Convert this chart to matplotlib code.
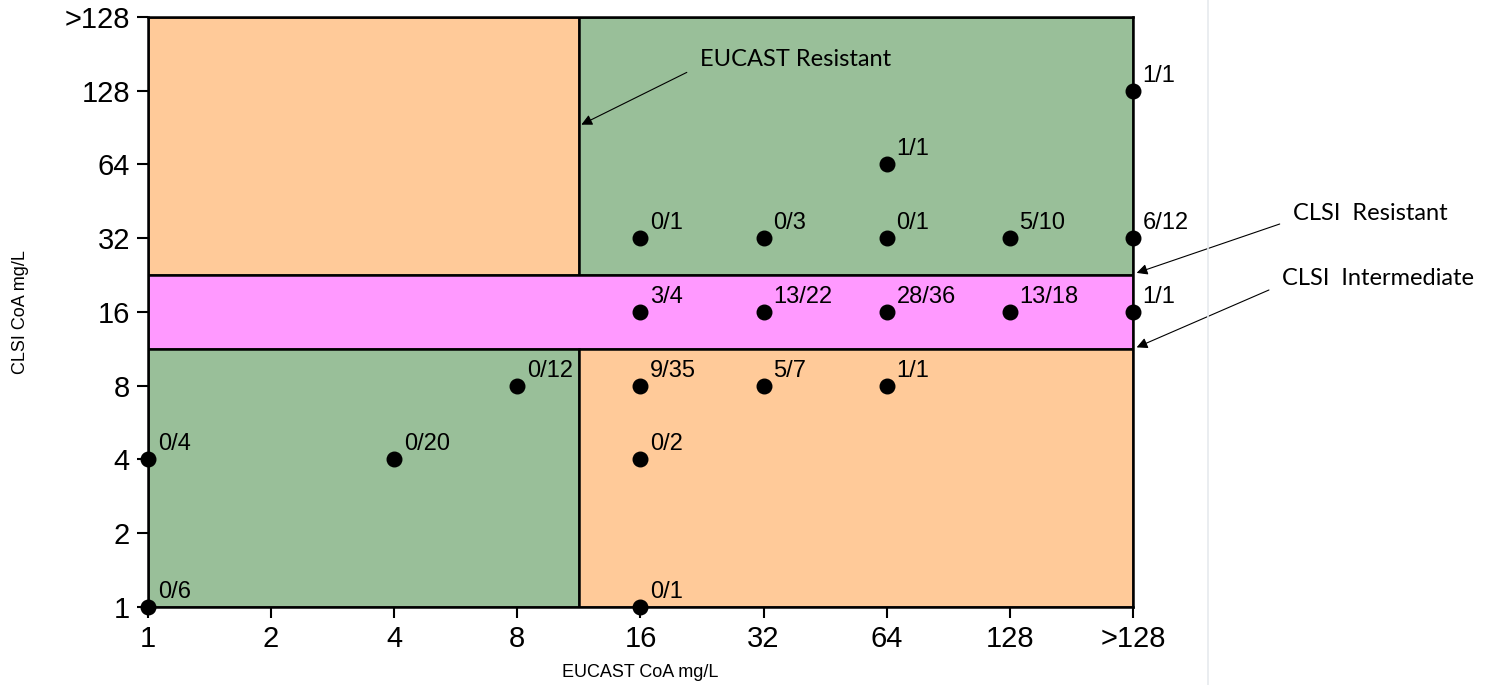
import matplotlib.pyplot as plt
from matplotlib.patches import Rectangle
from matplotlib.lines import Line2D

# MIC categories (log2 steps), shared by both axes
mic_labels = ["1", "2", "4", "8", "16", "32", "64", "128", ">128"]

# each point: EUCAST category index, CLSI category index, count label
eucast_idx = [0, 0, 2, 3, 4, 4, 4, 4, 4, 5, 5, 5, 6, 6, 6, 6, 7, 7, 8, 8, 8]
clsi_idx = [0, 2, 2, 3, 0, 2, 3, 4, 5, 3, 4, 5, 3, 4, 5, 6, 4, 5, 4, 5, 7]
counts = ["0/6", "0/4", "0/20", "0/12", "0/1", "0/2", "9/35", "3/4", "0/1",
          "5/7", "13/22", "0/3", "1/1", "28/36", "0/1", "1/1",
          "13/18", "5/10", "1/1", "6/12", "1/1"]

# breakpoints, in category units
eucast_bp = 3.5
clsi_int_lo, clsi_int_hi = 3.5, 4.5

ORANGE = "#ffca99"
GREEN = "#99bf99"
PINK = "#ff99ff"
SANS = ["Liberation Sans", "DejaVu Sans"]
NOTE = ["Lato", "DejaVu Sans"]

fig = plt.figure(figsize=(14.99, 6.85), dpi=100)
ax = fig.add_axes([0.0987, 0.1139, 0.6571, 0.8613])
xmax = len(mic_labels) - 1

boxes = [
    (0, clsi_int_hi, eucast_bp, xmax - clsi_int_hi, ORANGE),
    (eucast_bp, clsi_int_hi, xmax - eucast_bp, xmax - clsi_int_hi, GREEN),
    (0, clsi_int_lo, xmax, clsi_int_hi - clsi_int_lo, PINK),
    (0, 0, eucast_bp, clsi_int_lo, GREEN),
    (eucast_bp, 0, xmax - eucast_bp, clsi_int_lo, ORANGE),
]
for x0, y0, w, h, c in boxes:
    ax.add_patch(Rectangle((x0, y0), w, h, facecolor=c, edgecolor="black",
                           lw=1.8, zorder=1))

ax.scatter(eucast_idx, clsi_idx, s=110, color="black", zorder=5, clip_on=False)
for x, y, t in zip(eucast_idx, clsi_idx, counts):
    ax.annotate(t, (x, y), xytext=(7, 3), textcoords="offset points",
                ha="left", va="bottom", fontsize=17, family=SANS,
                annotation_clip=False, zorder=6)

ax.set_xlim(0, xmax)
ax.set_ylim(0, xmax)
ax.set_xticks(range(len(mic_labels)))
ax.set_xticklabels(mic_labels, family=SANS, fontsize=21)
ax.set_yticks(range(len(mic_labels)))
ax.set_yticklabels(mic_labels, family=SANS, fontsize=21)
ax.tick_params(direction="out", length=8, width=1.5, pad=5)
for sp in ax.spines.values():
    sp.set_linewidth(1.8)
    sp.set_zorder(2)

ax.set_xlabel("EUCAST CoA mg/L", fontsize=13, family=SANS, labelpad=8)
ax.set_ylabel("CLSI CoA mg/L", fontsize=13, family=SANS)
ax.yaxis.set_label_coords(-0.121, 0.5)

arrow = dict(arrowstyle="-|>", color="black", lw=0.8, mutation_scale=16,
             shrinkA=8, shrinkB=0, relpos=(0, 0.2))
ax.annotate("EUCAST Resistant", xy=(3.52, 6.54), xytext=(4.48, 7.42),
            ha="left", va="center", fontsize=17, family=NOTE,
            arrowprops=arrow, annotation_clip=False)
ax.annotate("CLSI  Resistant", xy=(8.03, 4.53), xytext=(9.3, 5.34),
            ha="left", va="center", fontsize=17, family=NOTE,
            arrowprops=arrow, annotation_clip=False)
ax.annotate("CLSI  Intermediate", xy=(8.03, 3.52), xytext=(9.21, 4.46),
            ha="left", va="center", fontsize=17, family=NOTE,
            arrowprops=arrow, annotation_clip=False)

fig.add_artist(Line2D([1208 / 1499, 1208 / 1499], [0, 1], color="#e6eaee", lw=1.2))

fig.savefig("out.png", dpi=100)
